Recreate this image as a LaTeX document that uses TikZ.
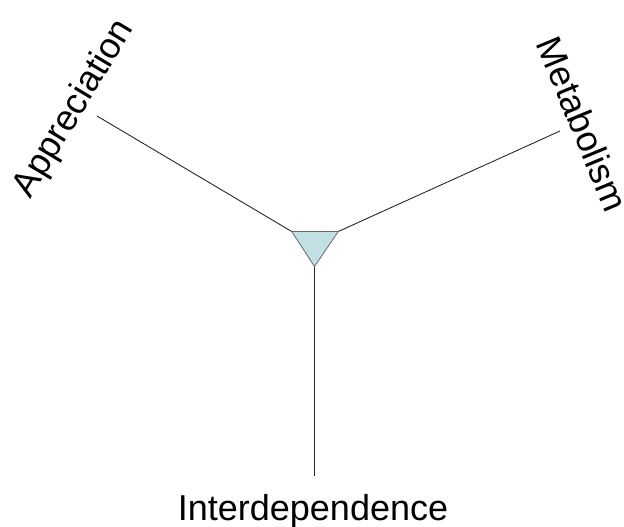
\documentclass[tikz,border=0pt]{standalone}
\usepackage{fontspec}
\setmainfont{Liberation Sans}
\definecolor{trifill}{RGB}{192,224,228}
\definecolor{edge}{RGB}{40,40,40}
\tikzset{
  conn/.style={draw=edge, line width=0.9pt},
  lbl/.style={inner sep=0pt, font=\fontsize{36}{40}\selectfont},
}
\begin{document}
\begin{tikzpicture}[x=1pt,y=-1pt]
\useasboundingbox (0,0) rectangle (624,527);
\coordinate (tl) at (291.7,231.5);
\coordinate (tr) at (338.3,231.5);
\coordinate (tb) at (314.5,266.5);
\coordinate (ea) at (97,116);
\coordinate (em) at (560,131);
\coordinate (ei) at (314.5,476);
\draw[conn] (tl) -- (ea);
\draw[conn] (tr) -- (em);
\draw[conn] (tb) -- (ei);
\filldraw[fill=trifill, draw=edge!70, line width=0.8pt] (tl) -- (tr) -- (tb) -- cycle;
\node[lbl, rotate=59] (app) at (74.5,109) {Appreciation};
\node[lbl, rotate=-67.5] (met) at (583,124) {Metabolism};
\node[lbl, anchor=base] (int) at (313,520.7) {Interdependence};
\end{tikzpicture}
\end{document}
